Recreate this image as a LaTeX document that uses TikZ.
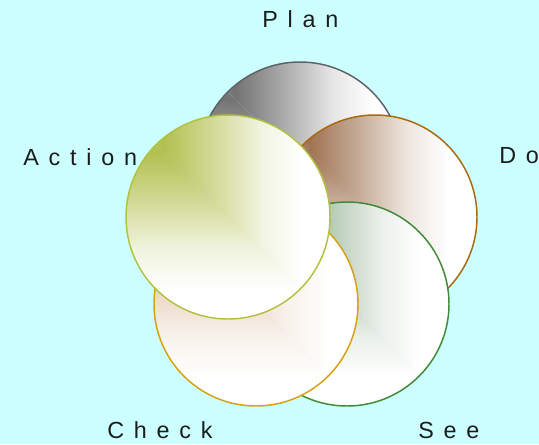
\documentclass[tikz,border=0pt]{standalone}
\usepackage{fontspec}
\usepackage{xcolor}
\usepackage{tikz}
\usetikzlibrary{positioning}
\newfontfamily\lblfont{Liberation Sans}[LetterSpace=42]
\definecolor{bgcyan}{HTML}{CCFFFF}
\definecolor{inkgrey}{HTML}{1C1C1C}
\definecolor{plancol}{HTML}{737373}
\definecolor{planline}{HTML}{5E6266}
\definecolor{docol}{HTML}{A07452}
\definecolor{doline}{HTML}{A8680E}
\definecolor{seecol}{HTML}{88A888}
\definecolor{seeline}{HTML}{3E8A36}
\definecolor{checkcol}{HTML}{DDB898}
\definecolor{checkline}{HTML}{D8A00E}
\definecolor{actcol}{HTML}{B2C050}
\definecolor{actline}{HTML}{B2C23E}
\colorlet{pdcolor}{black}
\pgfdeclarehorizontalshading[pdcolor]{discx}{100bp}{color(0bp)=(pdcolor!65!white); color(25bp)=(pdcolor!65!white); color(34bp)=(pdcolor); color(46bp)=(pdcolor!60!white); color(58bp)=(pdcolor!18!white); color(68bp)=(white); color(100bp)=(white)}
\pgfdeclareverticalshading[pdcolor]{discy}{100bp}{color(0bp)=(white); color(32bp)=(white); color(42bp)=(pdcolor!18!white); color(54bp)=(pdcolor!60!white); color(66bp)=(pdcolor); color(75bp)=(pdcolor!65!white); color(100bp)=(pdcolor!65!white)}
\tikzset{
  disc/.style 2 args={circle, inner sep=0pt, minimum size=153pt, draw=#2, line width=1.1pt,
    path picture={
      \colorlet{pdcolor}{#1}
      \shade[shading=discx] (path picture bounding box.north west) -- (path picture bounding box.north east) -- (path picture bounding box.south east) -- cycle;
      \shade[shading=discy] (path picture bounding box.north west) -- (path picture bounding box.south west) -- (path picture bounding box.south east) -- cycle;
    }},
  lbl/.style={anchor=base west, inner sep=0pt, text=inkgrey, font=\lblfont\fontsize{17.5}{20}\selectfont},
}
\begin{document}
\begin{tikzpicture}[x=0.75pt, y=-0.75pt]
  \fill[bgcyan] (0,0) rectangle (539,444);
  \useasboundingbox (0,0) rectangle (539,444);

  % the five discs, back to front
  \node[disc={plancol}{planline}] (plan) at (300,164) {};
  \node[disc={docol}{doline}] (do) at (375,217) {};
  \node[disc={seecol}{seeline}] (see) at (347,304) {};
  \node[disc={checkcol}{checkline}] (check) at (256,304) {};
  \node[disc={actcol}{actline}] (act) at (228,217) {};

  % labels
  \node[lbl] (plan-lbl) at (262,27) {Plan};
  \node[lbl] (do-lbl) at (499,163) {Do};
  \node[lbl] (see-lbl) at (418,438) {See};
  \node[lbl] (check-lbl) at (107,438) {Check};
  \node[lbl] (act-lbl) at (23,165) {Action};
\end{tikzpicture}
\end{document}
